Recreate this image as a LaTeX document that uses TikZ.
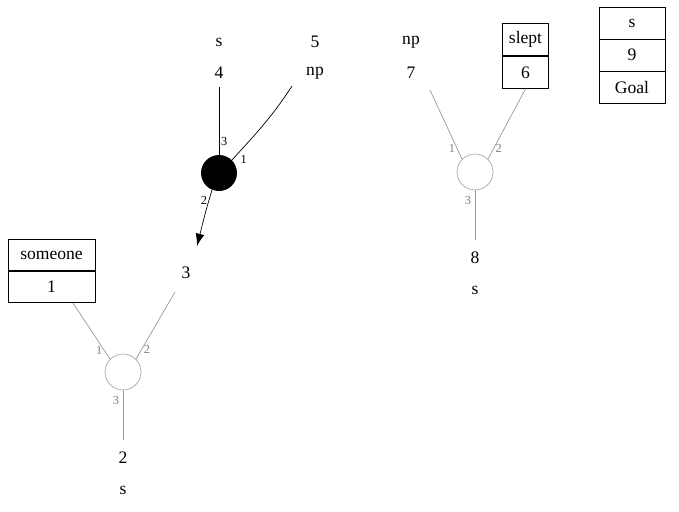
\documentclass[tikz,border=0pt]{standalone}
\usepackage{fontspec}
\setmainfont{Liberation Serif}
\usetikzlibrary{calc,arrows.meta}
\begin{document}
\begin{tikzpicture}[x=0.02cm,y=-0.02cm,
  lbl/.style={font=\fontsize{10}{11}\selectfont,inner sep=0pt},
  num/.style={font=\fontsize{7}{8}\selectfont,inner sep=0pt},
  hub/.style={circle,minimum size=0.72cm,inner sep=0pt},
  cell/.style={draw,font=\fontsize{10}{11}\selectfont,inner sep=0pt,minimum height=0.64cm}]
\useasboundingbox (0,0) rectangle (679,511);
%Labels of the top row
\node[lbl] (s4) at (219,42) {s};
\node[lbl] (n4) at (219,73) {4};
\node[lbl] (n5) at (315,42) {5};
\node[lbl] (np5) at (315,73) {np};
\node[lbl] (np7) at (411,42) {np};
\node[lbl] (n7) at (411,73) {7};
\node[lbl] (n3) at (186,273) {3};
\node[lbl] (n8) at (475,258) {8};
\node[lbl] (s8) at (475,290) {s};
\node[lbl] (n2) at (123,458) {2};
\node[lbl] (s2) at (123,490) {s};
%Boxes
\node[cell,minimum width=0.92cm] (slept) at (525.5,39.5) {slept};
\node[cell,minimum width=0.92cm] (six) at (525.5,72.5) {6};
\node[cell,minimum width=1.32cm] (goal1) at (632,23) {s};
\node[cell,minimum width=1.32cm] (goal2) at (632,55) {9};
\node[cell,minimum width=1.32cm] (goal3) at (632,87) {Goal};
\node[cell,minimum width=1.74cm] (someone) at (51.5,255.5) {someone};
\node[cell,minimum width=1.74cm] (one) at (51.5,286.5) {1};
%Hubs
\node[hub,fill=black] (h1) at (219,173) {};
\node[hub,draw=gray!70] (h2) at (475,172) {};
\node[hub,draw=gray!70] (h3) at (123,372) {};
\coordinate (c5) at (292,86);
\coordinate (c3) at (197,246);
%Connectors
\draw (n4.south)++(0,8) -- (h1.north) node[num,pos=0.8,right=1pt] {3};
\draw (c5) .. controls (270,120) and (250,140) .. (h1.north east) node[num,pos=0.88,below right=1pt] {1};
\draw[-{Latex[length=7pt,width=5pt]}] (h1.south west)++(6,4) .. controls (206,210) .. (c3) node[num,pos=0.2,left=1pt] {2};
\begin{scope}[gray!80]
\draw (430,90) -- (h2.north west) node[num,pos=0.85,left=1pt,gray] {1};
\draw (six.south) -- (h2.north east) node[num,pos=0.85,right=1pt,gray] {2};
\draw (h2.south) -- (475,240) node[num,pos=0.2,left=2pt,gray] {3};
\draw (73,303) -- (h3.north west) node[num,pos=0.85,left=1pt,gray] {1};
\draw (175,292) -- (h3.north east) node[num,pos=0.85,right=1pt,gray] {2};
\draw (h3.south) -- (123,440) node[num,pos=0.2,left=2pt,gray] {3};
\end{scope}
\end{tikzpicture}
\end{document}
